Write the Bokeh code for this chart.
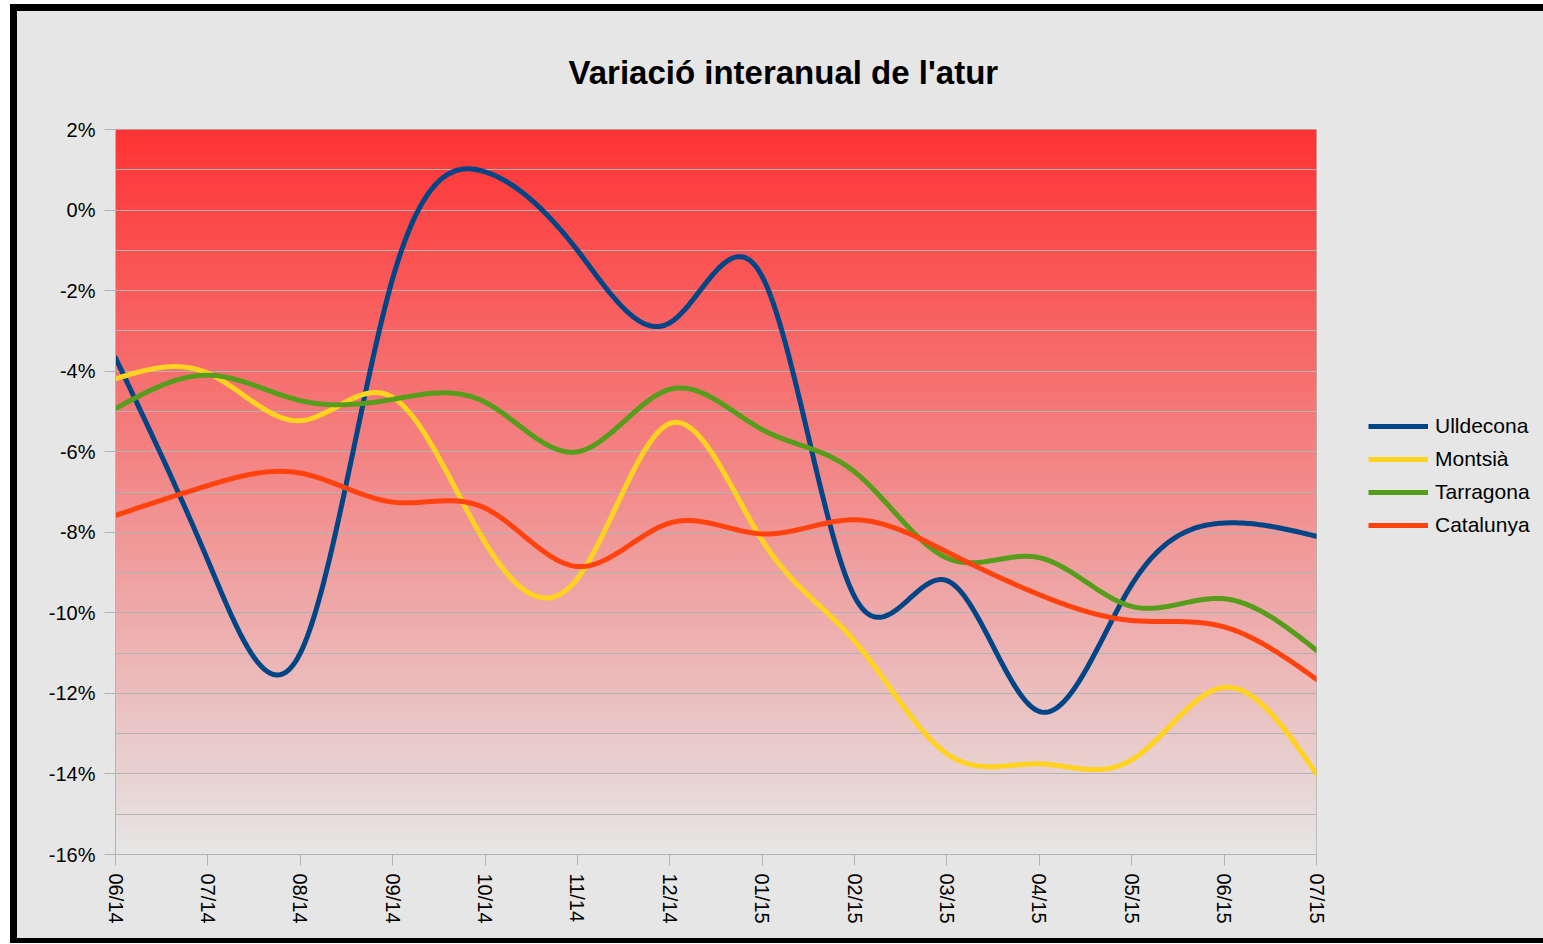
import numpy as np
from bokeh.plotting import figure
from bokeh.layouts import row, column
from bokeh.models import (Range1d, FixedTicker, PrintfTickFormatter, Legend, LegendItem, Title)
from bokeh.embed import file_html
from bokeh.resources import INLINE

months = ["06/14", "07/14", "08/14", "09/14", "10/14", "11/14", "12/14",
          "01/15", "02/15", "03/15", "04/15", "05/15", "06/15", "07/15"]
ulldecona = [-3.67, -8.7, -11.0, -1.7, 0.95, -1.0, -2.8, -1.65, -9.6, -9.2, -12.45, -9.3, -7.77, -8.1]
montsia = [-4.19, -4.05, -5.23, -4.65, -8.25, -9.15, -5.3, -8.2, -10.7, -13.5, -13.75, -13.65, -11.85, -14.0]
tarragona = [-4.93, -4.1, -4.73, -4.7, -4.77, -6.0, -4.45, -5.45, -6.5, -8.64, -8.63, -9.84, -9.65, -10.93]
catalunya = [-7.58, -6.84, -6.53, -7.25, -7.4, -8.85, -7.77, -8.04, -7.69, -8.49, -9.55, -10.19, -10.35, -11.65]

series = [("Ulldecona", ulldecona, "#004586"),
          ("Montsià", montsia, "#ffd320"),
          ("Tarragona", tarragona, "#579d1c"),
          ("Catalunya", catalunya, "#ff420e")]

FONT = "Liberation Sans"
BG = "#e6e6e6"


def natural_spline(yv, per=40):
    y = np.asarray(yv, dtype=float)
    n = len(y)
    A = np.zeros((n, n))
    b = np.zeros(n)
    A[0, 0] = 1.0
    A[-1, -1] = 1.0
    for i in range(1, n - 1):
        A[i, i - 1] = 1.0
        A[i, i] = 4.0
        A[i, i + 1] = 1.0
        b[i] = 6.0 * (y[i + 1] - 2 * y[i] + y[i - 1])
    M = np.linalg.solve(A, b)
    xs, ys = [], []
    for i in range(n - 1):
        t = np.linspace(0, 1, per, endpoint=(i == n - 2))
        a = 1 - t
        val = a * y[i] + t * y[i + 1] + ((a ** 3 - a) * M[i] + (t ** 3 - t) * M[i + 1]) / 6.0
        xs.extend(i + t)
        ys.extend(val)
    return np.array(xs), np.array(ys)


p = figure(width=1311, height=927, output_backend="svg", toolbar_location=None,
           x_range=Range1d(0, len(months) - 1), y_range=Range1d(-16, 2),
           min_border_left=98, min_border_right=12, min_border_top=118, min_border_bottom=84)
p.background_fill_color = BG
p.border_fill_color = BG
p.outline_line_color = "#b3b3b3"

# gradient plot-area fill
nrows = 256
t = np.linspace(0, 1, nrows)  # 0 bottom, 1 top
bot = np.array([230, 230, 230])
top = np.array([255, 51, 51])
cols = (bot[None, :] * (1 - t[:, None]) + top[None, :] * t[:, None]).astype(np.uint8)
img = np.zeros((nrows, 1), dtype=np.uint32)
view = img.view(dtype=np.uint8).reshape((nrows, 1, 4))
view[:, 0, 0] = cols[:, 0]
view[:, 0, 1] = cols[:, 1]
view[:, 0, 2] = cols[:, 2]
view[:, 0, 3] = 255
p.image_rgba(image=[img], x=0, y=-16, dw=len(months) - 1, dh=18, level="image")

curves = []
for name, vals, color in series:
    xs, ys = natural_spline(vals)
    curves.append((xs, ys))
    p.line(xs, ys, line_color=color, line_width=5, line_cap="round", line_join="round")

# axes
p.xaxis.ticker = FixedTicker(ticks=list(range(len(months))))
p.xaxis.major_label_overrides = {i: m for i, m in enumerate(months)}
p.xaxis.major_label_orientation = "vertical"
p.yaxis.ticker = FixedTicker(ticks=list(range(-16, 3, 2)), minor_ticks=list(range(-15, 2, 2)))
p.yaxis.formatter = PrintfTickFormatter(format="%d%%")
for ax in (p.xaxis[0], p.yaxis[0]):
    ax.axis_line_color = "#b3b3b3"
    ax.major_tick_line_color = "#b3b3b3"
    ax.minor_tick_line_color = None
    ax.major_tick_out = 11
    ax.major_tick_in = 0
    ax.major_label_text_font = FONT
    ax.major_label_text_font_size = "20px"
    ax.major_label_text_color = "#000000"
p.xaxis.major_label_standoff = 8
p.yaxis.major_label_standoff = 9

p.xgrid.grid_line_color = None
p.ygrid.ticker = FixedTicker(ticks=list(range(-16, 3, 2)), minor_ticks=list(range(-15, 2, 2)))
p.ygrid.grid_line_color = "#b3b3b3"
p.ygrid.minor_grid_line_color = "#b3b3b3"

title = Title(text="Variació interanual de l'atur", align="left", offset=453,
              text_font=FONT, text_font_size="33px", text_font_style="bold",
              text_color="#000000", standoff=78)
p.add_layout(title, "above")

# legend strip: a second canvas to the right of the plot; its lines sit outside its view
pl = figure(width=215, height=927, output_backend="svg", toolbar_location=None,
            x_range=Range1d(100, 101), y_range=Range1d(100, 101),
            x_axis_location=None, y_axis_location=None, min_border=0,
            outline_line_color=None)
pl.background_fill_color = BG
pl.border_fill_color = BG
pl.grid.visible = False
items = []
for (name, vals, color), (xs, ys) in zip(series, curves):
    r = pl.line(xs, ys, line_color=color, line_width=5, line_cap="butt")
    items.append(LegendItem(label=name, renderers=[r]))
legend = Legend(items=items, location=(40, 316), orientation="vertical",
                glyph_width=60, glyph_height=26, label_height=26, spacing=7,
                label_standoff=7, padding=0, margin=0,
                label_text_font=FONT, label_text_font_size="21px", label_text_color="#000000",
                border_line_color=None, background_fill_alpha=0)
pl.add_layout(legend)

inner = row(p, pl, spacing=0, styles={"background-color": BG})
page = column(inner, styles={"background-color": "#000000", "padding": "7px 0px 5px 7px",
                             "margin": "4px 0px 0px 10px"})

open("out.html", "w").write(file_html(page, INLINE))
